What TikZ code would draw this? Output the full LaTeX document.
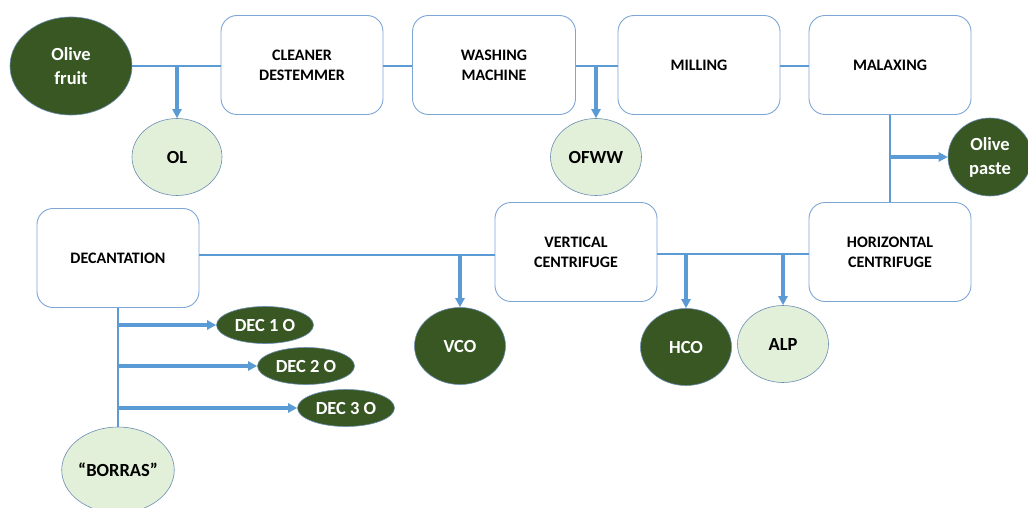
\documentclass[tikz,border=0pt]{standalone}
\usepackage{fontspec}
\setmainfont{Carlito}
\usetikzlibrary{shapes.geometric,arrows.meta}
\definecolor{dgreen}{HTML}{385723}
\definecolor{lgreen}{HTML}{E2F0D9}
\definecolor{boxblue}{HTML}{7EA6D6}
\definecolor{lineblue}{HTML}{5B9BD5}
\definecolor{ellborder}{HTML}{6A8DB3}
\tikzset{
  procbox/.style={draw=boxblue, line width=0.9pt, rounded corners=16pt, fill=white,
    minimum width=162pt, minimum height=99pt, align=center, inner sep=2pt,
    font=\bfseries\fontsize{16}{20}\selectfont, text=black},
  darkell/.style={ellipse, draw=ellborder, line width=0.6pt, fill=dgreen, text=white,
    inner sep=0pt, align=center, font=\bfseries\fontsize{18.5}{24}\selectfont},
  lightell/.style={ellipse, draw=ellborder, line width=0.6pt, fill=lgreen, text=black,
    inner sep=0pt, align=center, font=\bfseries\fontsize{18.5}{24}\selectfont},
  conn/.style={draw=lineblue, line width=2.8pt},
  arr/.style={draw=lineblue, line width=3.2pt, -{Triangle[length=9pt,width=9pt]}},
}
\begin{document}
\begin{tikzpicture}[x=1pt,y=-1pt]
\useasboundingbox[fill=white] (0,0) rectangle (1028,508);
% top row
\node[darkell, minimum width=122pt, minimum height=98pt] (olive) at (71,66) {Olive\\fruit};
\node[lightell, minimum width=90pt, minimum height=77pt] (ol) at (177,157) {OL};
\node[procbox] (cleaner) at (302,65) {CLEANER\\DESTEMMER};
\node[procbox, minimum width=163pt] (washing) at (494,65) {WASHING\\MACHINE};
\node[procbox] (milling) at (699,65) {MILLING};
\node[procbox] (malax) at (890,65) {MALAXING};
\node[lightell, minimum width=91pt, minimum height=77pt] (ofww) at (596,157) {OFWW};
\node[darkell, minimum width=84pt, minimum height=78pt] (paste) at (990,157) {Olive\\paste};
% bottom row
\node[procbox] (decant) at (118,258) {DECANTATION};
\node[procbox] (vc) at (576,252) {VERTICAL\\CENTRIFUGE};
\node[procbox] (hc) at (890,252) {HORIZONTAL\\CENTRIFUGE};
\node[darkell, minimum width=91pt, minimum height=77pt] (vco) at (460,346) {VCO};
\node[darkell, minimum width=91pt, minimum height=77pt] (hco) at (686,347) {HCO};
\node[lightell, minimum width=91pt, minimum height=77pt] (alp) at (783,344) {ALP};
\node[darkell, minimum width=97pt, minimum height=37pt] (dec1) at (265,325) {DEC 1 O};
\node[darkell, minimum width=97pt, minimum height=37pt] (dec2) at (306,366) {DEC 2 O};
\node[darkell, minimum width=97pt, minimum height=37pt] (dec3) at (346,408) {DEC 3 O};
\node[lightell, minimum width=110pt, minimum height=86pt] (borras) at (118,470) {``BORRAS''};
% coordinates
\coordinate (b1) at (177,66);
\coordinate (b2) at (596,66);
\coordinate (b3) at (890,157);
\coordinate (b4) at (460,255);
\coordinate (b5) at (686,254);
\coordinate (b6) at (783,254);
\coordinate (d1) at (118,325);
\coordinate (d2) at (118,366);
\coordinate (d3) at (118,408);
% connectors top
\draw[conn] (olive.east |- b1) -- (cleaner.west |- b1);
\draw[arr] (b1) -- (ol.north);
\draw[conn] (cleaner.east |- b1) -- (washing.west |- b1);
\draw[conn] (washing.east |- b2) -- (milling.west |- b2);
\draw[arr] (b2) -- (ofww.north);
\draw[conn] (milling.east |- b2) -- (malax.west |- b2);
\draw[conn] (malax.south) -- (hc.north);
\draw[arr] (b3) -- (paste.west);
% connectors bottom
\draw[conn] (decant.east |- b4) -- (vc.west |- b4);
\draw[arr] (b4) -- (vco.north);
\draw[conn] (vc.east |- b5) -- (hc.west |- b5);
\draw[arr] (b5) -- (hco.north);
\draw[arr] (b6) -- (alp.north);
\draw[conn] (decant.south) -- (borras.north);
\draw[arr] (d1) -- (dec1.west);
\draw[arr] (d2) -- (dec2.west);
\draw[arr] (d3) -- (dec3.west);
\end{tikzpicture}
\end{document}
